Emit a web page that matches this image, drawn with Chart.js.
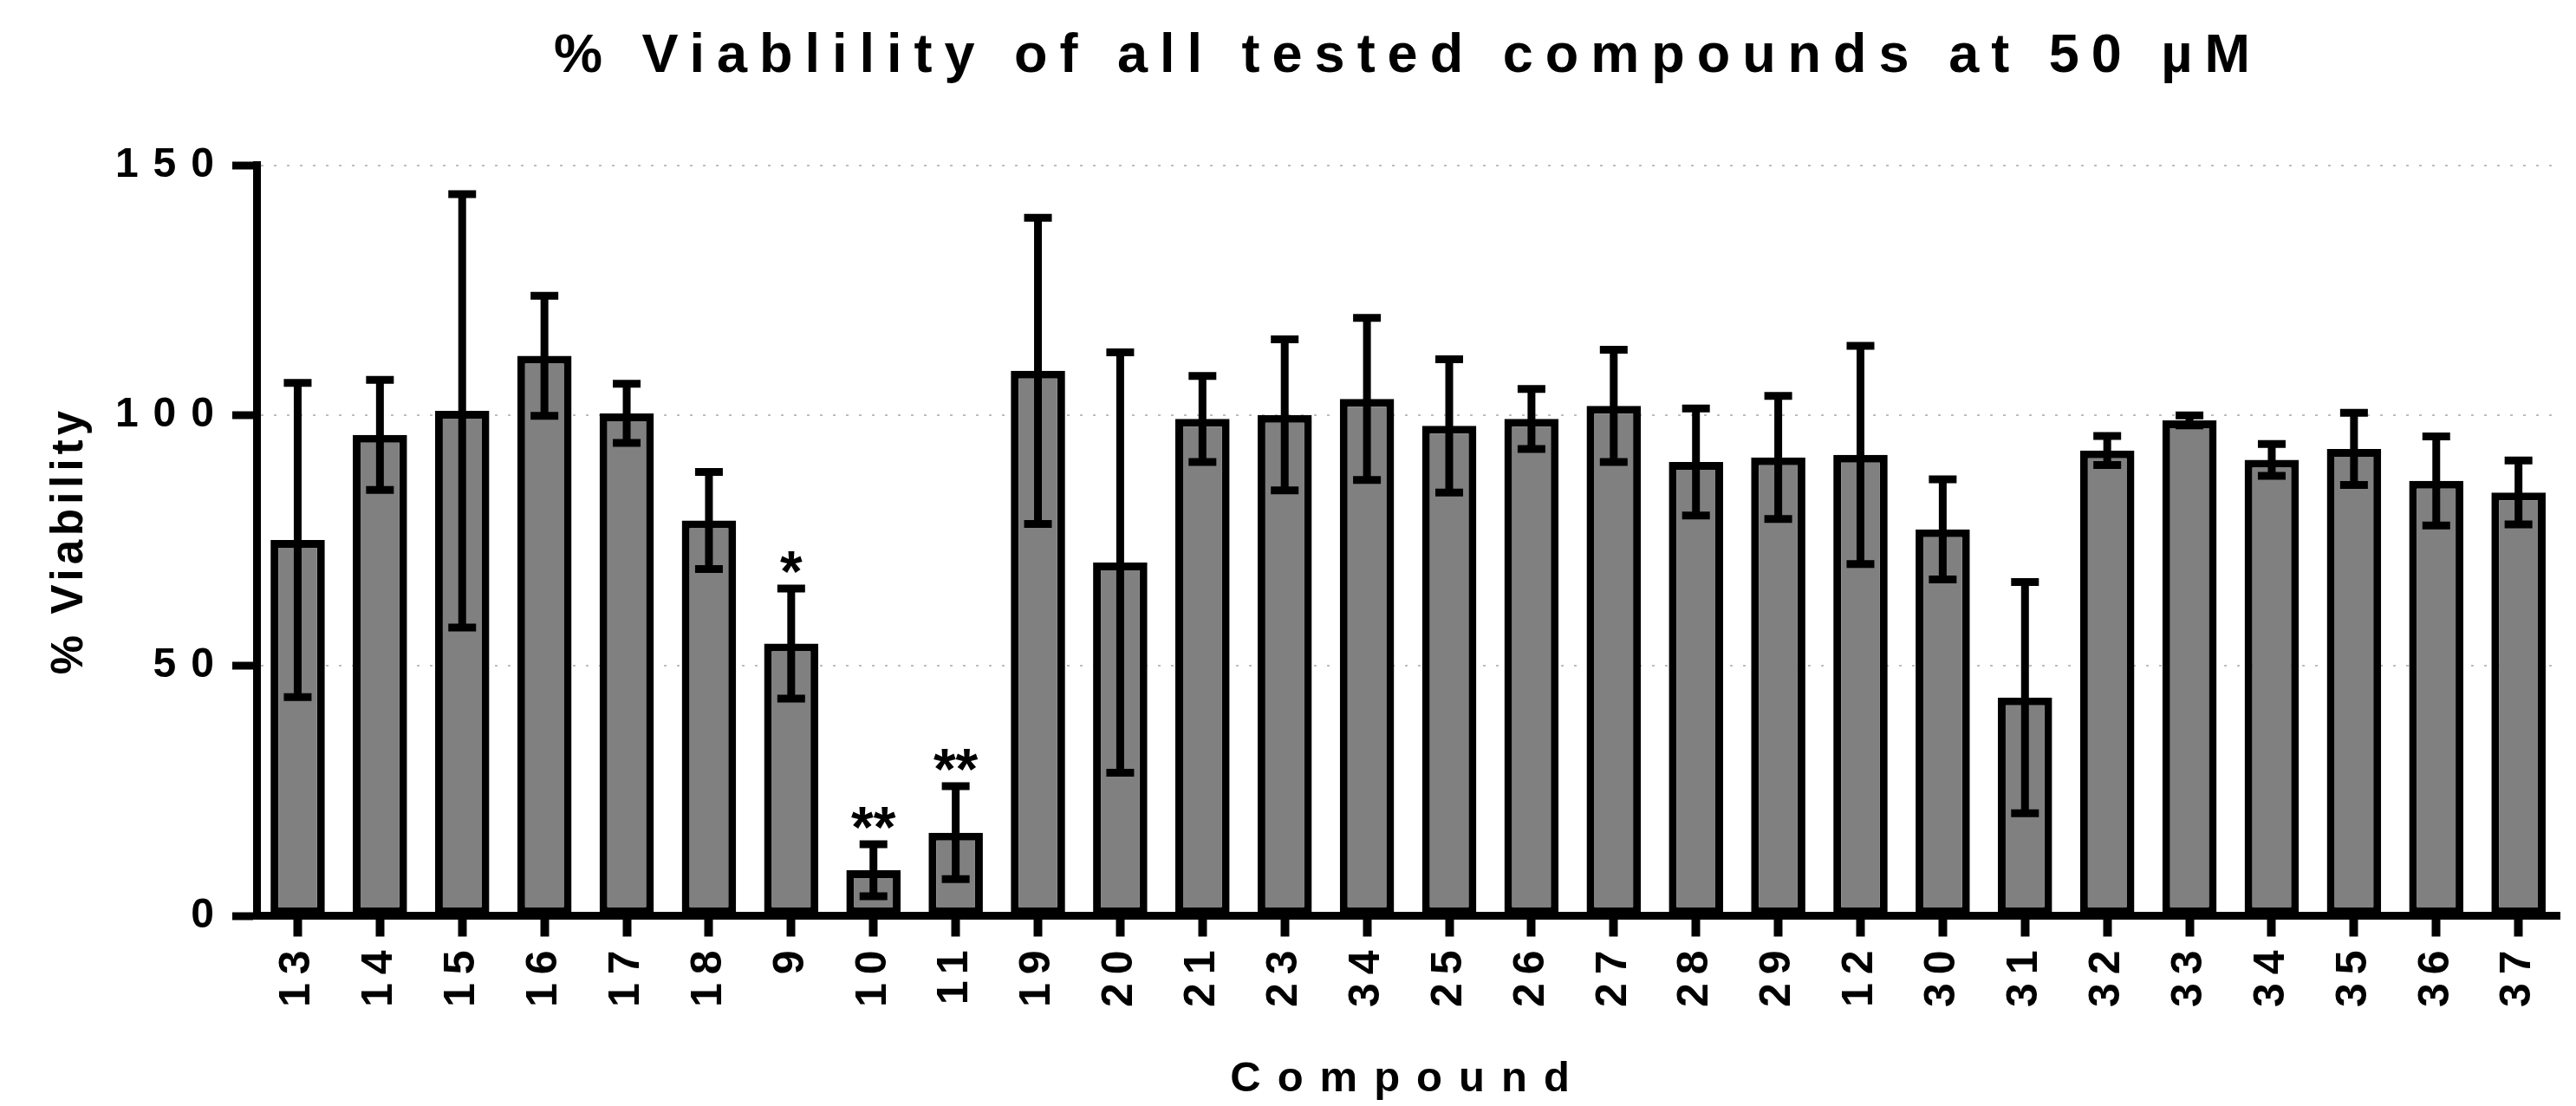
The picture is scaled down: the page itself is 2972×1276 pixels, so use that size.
<!DOCTYPE html>
<html>
<head>
<meta charset="utf-8">
<title>% Viability of all tested compounds</title>
<script src="https://cdn.jsdelivr.net/npm/chart.js@4.4.1/dist/chart.umd.min.js"></script>
<style>
  body { margin: 0; background: #fff; }
  #wrap { width: 2972px; height: 1276px; }
</style>
</head>
<body>
<div id="wrap"><canvas id="chart" width="2972" height="1276"></canvas></div>
<script>
// Compounds in the order they appear on the x axis
const compounds = ["13", "14", "15", "16", "17", "18", "9", "10", "11", "19", "20", "21", "23", "34",
  "25", "26", "27", "28", "29", "12", "30", "31", "32", "33", "34", "35", "36", "37"];

// Mean % viability per compound
const viability = [75.1, 96.1, 100.9, 111.9, 100.4, 79.0, 54.4, 9.1, 16.6, 108.9, 70.6, 99.3, 100.1, 103.3,
  97.9, 99.3, 101.9, 90.7, 91.6, 92.1, 77.2, 43.6, 93.0, 99.0, 91.1, 93.3, 86.9, 84.6];

// Error (+/-) per compound
const errors = [31.4, 11.0, 43.3, 12.0, 5.9, 9.7, 11.0, 5.2, 9.3, 30.6, 42.0, 8.6, 15.1, 16.2,
  13.3, 6.0, 11.2, 10.7, 12.3, 21.8, 10.0, 23.1, 2.9, 1.0, 3.2, 7.2, 8.9, 6.4];

// Significance marks above the error bars
const marks = ["", "", "", "", "", "", "*", "**", "**", "", "", "", "", "",
  "", "", "", "", "", "", "", "", "", "", "", "", "", ""];

const yTicks = [0, 50, 100, 150];

const FONT = "'Liberation Sans', Arial, sans-serif";

// letter spacing (px) picked by font size, Prism-style spaced lettering
const SPACING = { 63: 14, 51: 5, 49: 19, 48: 17, 50: 10 };
function spacingFor(font) {
  const m = /(\d+(?:\.\d+)?)px/.exec(font);
  const s = m ? SPACING[Math.round(+m[1])] : 0;
  return (s || 0) + "px";
}

const canvas = document.getElementById("chart");
const ctx = canvas.getContext("2d");
["fillText", "measureText"].forEach((name) => {
  const orig = ctx[name];
  ctx[name] = function (...args) {
    this.letterSpacing = spacingFor(this.font);
    return orig.apply(this, args);
  };
});

// Draws the error bars and the significance stars
const errorBars = {
  id: "errorBars",
  afterDatasetsDraw(chart) {
    const { ctx, scales: { x, y } } = chart;
    ctx.save();
    ctx.strokeStyle = "#000";
    ctx.fillStyle = "#000";
    ctx.lineWidth = 9;
    viability.forEach((v, i) => {
      const cx = x.getPixelForValue(i);
      const top = y.getPixelForValue(v + errors[i]);
      const bot = y.getPixelForValue(v - errors[i]);
      ctx.beginPath();
      ctx.moveTo(cx, top);
      ctx.lineTo(cx, bot);
      ctx.moveTo(cx - 16, top);
      ctx.lineTo(cx + 16, top);
      ctx.moveTo(cx - 16, bot);
      ctx.lineTo(cx + 16, bot);
      ctx.stroke();
      if (marks[i]) {
        ctx.font = "bold 66px " + FONT;
        ctx.textAlign = "center";
        ctx.textBaseline = "alphabetic";
        ctx.fillText(marks[i], cx, top + 3);
      }
    });
    ctx.restore();
  },
};

new Chart(ctx, {
  type: "bar",
  data: {
    labels: compounds,
    datasets: [{
      label: "% Viability",
      data: viability,
      backgroundColor: "#808080",
      borderColor: "#000",
      borderWidth: 9,
      borderSkipped: false,
      barPercentage: 0.66,
      categoryPercentage: 1.0,
    }],
  },
  options: {
    responsive: false,
    animation: false,
    layout: { padding: { left: 0, right: 7, top: 0, bottom: 0 } },
    plugins: {
      legend: { display: false },
      tooltip: { enabled: false },
      title: {
        display: true,
        text: "% Viablility of all tested compounds at 50 µM",
        color: "#000",
        fullSize: false,
        font: { family: FONT, size: 63, weight: "bold", lineHeight: 1.2 },
        padding: { top: 28, bottom: 87 },
      },
    },
    scales: {
      x: {
        offset: true,
        afterFit: (s) => { s.height = 219.5; },
        grid: {
          display: true,
          drawOnChartArea: false,
          offset: false,
          tickColor: "#000",
          tickWidth: 10,
          tickLength: 24,
        },
        border: { display: true, color: "#000", width: 9 },
        ticks: {
          color: "#000",
          autoSkip: false,
          minRotation: 90,
          maxRotation: 90,
          padding: 6,
          font: { family: FONT, size: 50, weight: "bold" },
        },
        title: {
          display: true,
          text: "Compound",
          color: "#000",
          font: { family: FONT, size: 49, weight: "bold", lineHeight: 1.2 },
          padding: { top: 0, bottom: 1 },
        },
      },
      y: {
        min: 0,
        max: 150,
        afterFit: (s) => { s.width = 296; },
        afterBuildTicks: (s) => { s.ticks = yTicks.map((v) => ({ value: v })); },
        grid: {
          color: (c) => (c.tick && c.tick.value === 0 ? "rgba(0,0,0,0)" : "#bdbdbd"),
          lineWidth: 2,
          tickColor: "#000",
          tickWidth: 9,
          tickLength: 28,
        },
        border: { display: true, color: "#000", width: 9, dash: [3, 12] },
        ticks: {
          color: "#000",
          padding: 4,
          font: { family: FONT, size: 48, weight: "bold" },
        },
        title: {
          display: true,
          text: "% Viability",
          color: "#000",
          font: { family: FONT, size: 51, weight: "bold", lineHeight: 1.2 },
          padding: { top: 50, bottom: 0 },
        },
      },
    },
  },
  plugins: [errorBars],
});
</script>
</body>
</html>
